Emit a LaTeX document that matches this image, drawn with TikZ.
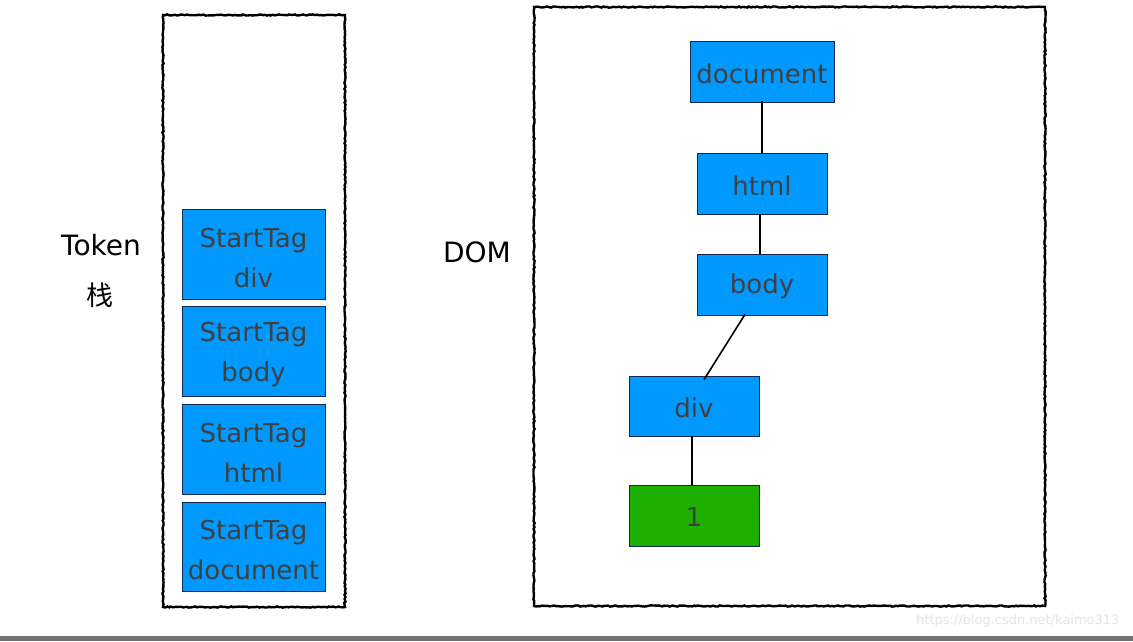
\documentclass[tikz,border=0pt]{standalone}
\usepackage{fontspec}
\setmainfont{DejaVu Sans}
\newfontfamily\cjk{Noto Sans CJK SC}
\usetikzlibrary{decorations.pathmorphing}
\definecolor{boxblue}{RGB}{0,153,255}
\definecolor{boxgreen}{RGB}{30,176,0}
\definecolor{boxtext}{RGB}{64,64,64}
\definecolor{boxedge}{RGB}{20,40,80}
\tikzset{
  handframe/.style={draw=black, line width=2.4pt,
    decorate, decoration={random steps, segment length=2pt, amplitude=0.6pt}},
  tokbox/.style={draw=boxedge, line width=0.8pt, fill=boxblue,
    minimum width=143pt, minimum height=90pt, inner sep=0pt},
  toktext/.style={text=boxtext, align=center, inner sep=0pt,
    font=\fontsize{26}{40}\selectfont},
  domnode/.style={draw=boxedge, line width=0.8pt, fill=boxblue,
    minimum width=130pt, minimum height=61pt, inner sep=0pt},
  domtext/.style={text=boxtext, inner sep=0pt, font=\fontsize{26}{30}\selectfont},
  edge/.style={draw=black, line width=1.6pt},
  bigtext/.style={font=\fontsize{28}{32}\selectfont, text=black}
}
\begin{document}
\begin{tikzpicture}[x=1pt,y=-1pt]
\useasboundingbox (0,0) rectangle (1133,641);
\fill[white] (0,0) rectangle (1133,641);
% bottom bar
\fill[black!55] (0,636) rectangle (1133,641);
% frames
\draw[handframe] (163,15) rectangle (345,607);
\draw[handframe] (534,7) rectangle (1045,606);
% labels
\node[bigtext] (token) at (101,245) {Token};
\node[font=\cjk\fontsize{27}{30}\selectfont] (zhan) at (100,295) {栈};
\node[bigtext] (dom) at (477,252) {DOM};
% token stack
\node[tokbox] (t1) at (253.5,254) {};
\node[tokbox] (t2) at (253.5,351) {};
\node[tokbox] (t3) at (253.5,449) {};
\node[tokbox, minimum height=89pt] (t4) at (253.5,546.5) {};
\node[toktext] (l1) at ([yshift=-4pt]t1.center) {StartTag\\div};
\node[toktext] (l2) at ([yshift=-4pt]t2.center) {StartTag\\body};
\node[toktext] (l3) at ([yshift=-4pt]t3.center) {StartTag\\html};
\node[toktext] (l4) at ([yshift=-4pt]t4.center) {StartTag\\document};
% DOM tree
\node[domnode, minimum width=144pt] (ndoc) at (762,72) {};
\node[domnode] (nhtml) at (762,183.5) {};
\node[domnode] (nbody) at (762,284.5) {};
\node[domnode, minimum height=60pt] (ndiv) at (694,406) {};
\node[domnode, fill=boxgreen] (none) at (694,515.5) {};
\node[domtext] (ldoc) at ([yshift=-2pt]ndoc.center) {document};
\node[domtext] (lhtml) at ([yshift=-2pt]nhtml.center) {html};
\node[domtext] (lbody) at ([yshift=-2pt]nbody.center) {body};
\node[domtext] (ldiv) at ([yshift=-2pt]ndiv.center) {div};
\node[domtext] (lone) at ([yshift=-2pt]none.center) {1};
\draw[edge] ([yshift=2pt]ndoc.south) -- (nhtml.north);
\draw[edge] ([xshift=-2pt]nhtml.south) -- ([xshift=-2pt]nbody.north);
\draw[edge] ([xshift=-17pt,yshift=1pt]nbody.south) -- ([xshift=10pt,yshift=-4pt]ndiv.north);
\draw[edge] ([xshift=-2pt]ndiv.south) -- ([xshift=-2pt]none.north);
% watermark
\node[anchor=east, text=black!10, font=\fontsize{13}{15}\selectfont] (wm) at (1123,621) {https://blog.csdn.net/kaimo313};
\end{tikzpicture}
\end{document}
